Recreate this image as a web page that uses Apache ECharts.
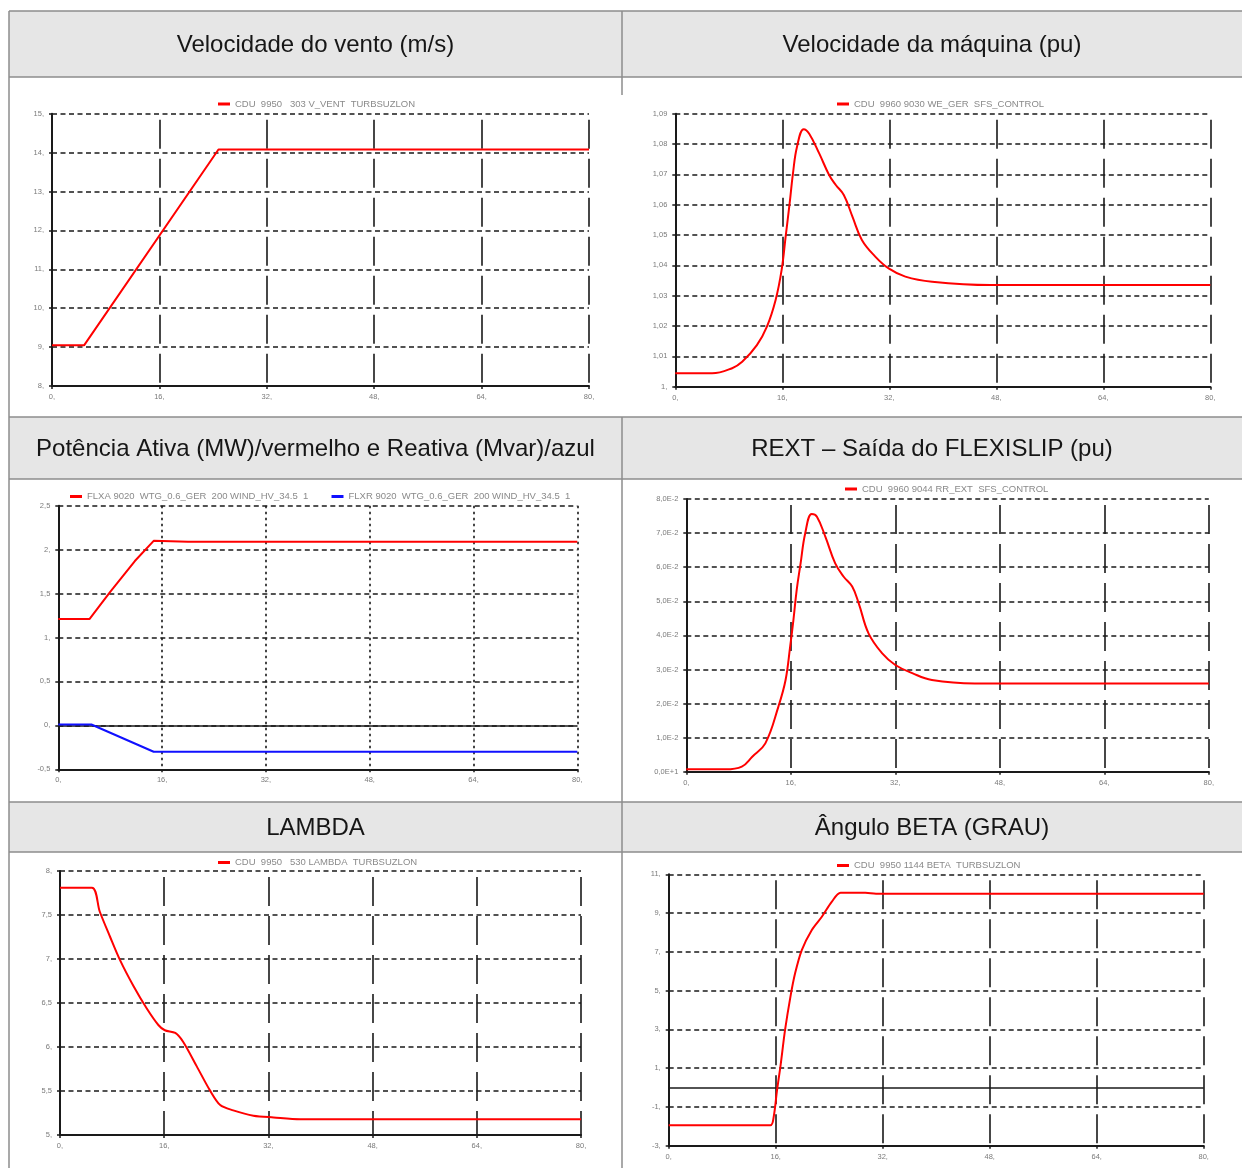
<!DOCTYPE html>
<html><head><meta charset="utf-8">
<script src="https://cdn.jsdelivr.net/npm/echarts@6/dist/echarts.min.js"></script>
<style>html,body{margin:0;padding:0;background:#fff}#c{width:1242px;height:1168px}</style>
</head><body><div id="c"></div>
<script>
// ---------- DATA ----------
const headers = ['Velocidade do vento (m/s)', 'Velocidade da máquina (pu)',
  'Potência Ativa (MW)/vermelho e Reativa (Mvar)/azul', 'REXT – Saída do FLEXISLIP (pu)',
  'LAMBDA', 'Ângulo BETA (GRAU)'];
const xTicks = [0, 16, 32, 48, 64, 80];

// Chart 1: wind speed
const windName = 'CDU  9950   303 V_VENT  TURBSUZLON';
const windT = [0, 4.8, 24.8, 80];
const windV = [9.05, 9.05, 14.08, 14.08];

// Chart 2: machine speed
const speedName = 'CDU  9960 9030 WE_GER  SFS_CONTROL';
const speedT = [0, 5.5, 8.5, 10, 12.2, 13.7, 15.0, 15.9, 16.5, 17.1, 17.6, 18.2, 19.2, 20.0, 21.5, 23.0, 24.0, 25.2, 26.5, 27.9, 29.9, 31.9, 34.4, 38.4, 47.1, 80];
const speedV = [1.0044, 1.0044, 1.0061, 1.0082, 1.0137, 1.0198, 1.0286, 1.0385, 1.0495, 1.0605, 1.0704, 1.0791, 1.0849, 1.0835, 1.0770, 1.0698, 1.0665, 1.0632, 1.0560, 1.0484, 1.0429, 1.0390, 1.0363, 1.0346, 1.0335, 1.0335];

// Chart 3: active (red) and reactive (blue) power
const pName = 'FLXA 9020  WTG_0.6_GER  200 WIND_HV_34.5  1';
const pT = [0, 4.8, 8.0, 11.8, 14.7, 20, 80];
const pV = [1.21, 1.21, 1.52, 1.87, 2.10, 2.09, 2.09];
const qName = 'FLXR 9020  WTG_0.6_GER  200 WIND_HV_34.5  1';
const qT = [0, 5.1, 14.7, 80];
const qV = [0.01, 0.01, -0.30, -0.30];

// Chart 4: REXT
const rextName = 'CDU  9960 9044 RR_EXT  SFS_CONTROL';
const rextT = [0, 6.0, 8.5, 10.1, 12.1, 14.1, 15.2, 15.9, 16.4, 16.9, 17.5, 18.2, 19.2, 20.0, 21.3, 22.8, 24.1, 25.4, 26.4, 27.9, 30.0, 32.0, 34.6, 37.6, 44.2, 80];
const rextV = [0.0007, 0.0007, 0.0015, 0.0044, 0.0083, 0.0191, 0.0269, 0.0367, 0.0445, 0.0533, 0.0611, 0.0699, 0.0756, 0.0748, 0.0689, 0.0611, 0.0572, 0.0543, 0.0494, 0.0406, 0.0347, 0.0313, 0.0289, 0.0269, 0.0259, 0.0259];

// Chart 5: LAMBDA
const lamName = 'CDU  9950   530 LAMBDA  TURBSUZLON';
const lamT = [0, 4.9, 6.1, 7.7, 9.2, 11.3, 13.3, 15.1, 16.1, 17.7, 18.9, 21.0, 23.0, 24.6, 26.6, 29.7, 32.8, 36.9, 80];
const lamV = [7.81, 7.81, 7.54, 7.25, 6.99, 6.69, 6.44, 6.25, 6.19, 6.16, 6.06, 5.78, 5.51, 5.34, 5.28, 5.22, 5.20, 5.18, 5.18];

// Chart 6: BETA
const betaName = 'CDU  9950 1144 BETA  TURBSUZLON';
const betaT = [0, 15.2, 15.7, 16.2, 16.7, 17.4, 18.2, 18.9, 19.9, 21.4, 22.9, 24.4, 25.7, 29.4, 31, 80];
const betaV = [-1.95, -1.95, -1.51, -0.13, 1.07, 2.97, 4.68, 5.89, 7.09, 8.13, 8.81, 9.59, 10.05, 10.05, 10.0, 10.0];

// y axis ranges [min, max, interval]
const yRanges = [[8, 15, 1], [1.0, 1.09, 0.01], [-0.5, 2.5, 0.5], [0, 0.08, 0.01], [5, 8, 0.5], [-3, 11, 2]];

// ---------- LAYOUT ----------
const grids = [
  {left: 52, top: 113.7, width: 537, height: 272.3},
  {left: 675.3, top: 113.7, width: 535, height: 273},
  {left: 58.3, top: 505.7, width: 519, height: 263.6},
  {left: 686.3, top: 499, width: 522.5, height: 272.7},
  {left: 60, top: 871, width: 521, height: 264},
  {left: 668.7, top: 874.3, width: 535, height: 271.4}
];
const legendPos = [[218, 99], [837, 99], [70, 491.5], [845, 484], [218, 857.5], [837, 860.5]];

function zip(a, b) { return a.map((t, i) => [t, b[i]]); }
function fmtNum(v) {
  const s = String(Math.round(v * 1e6) / 1e6);
  return s.indexOf('.') < 0 ? s + ',' : s.replace('.', ',');
}
function fmtExp(v) {
  if (Math.abs(v) < 1e-9) return '0,0E+1';
  return (Math.round(v * 1000) / 10).toFixed(1).replace('.', ',') + 'E-2';
}

const AX = '#1a1a1a', LBL = '#7a7a7a', FONT = '"Liberation Sans", Arial, sans-serif';

const xAxes = grids.map((g, i) => ({
  type: 'value', gridIndex: i, min: xTicks[0], max: xTicks[xTicks.length - 1], interval: xTicks[1] - xTicks[0],
  axisLine: {show: true, onZero: false, lineStyle: {color: AX, width: 2}},
  axisTick: {show: true, length: 3, lineStyle: {color: AX, width: 1.5}},
  axisLabel: {fontSize: 7.5, color: LBL, margin: 7, fontFamily: FONT, showMinLabel: true, showMaxLabel: true, formatter: fmtNum},
  splitLine: {show: true, lineStyle: i === 2 ?
    {color: AX, width: 1.6, type: [2.5, 3.5]} :
    {color: AX, width: 1.6, type: [29, 10], dashOffset: 33}}
}));
const yAxes = grids.map((g, i) => ({
  type: 'value', gridIndex: i, min: yRanges[i][0], max: yRanges[i][1], interval: yRanges[i][2],
  axisLine: {show: true, onZero: false, lineStyle: {color: AX, width: 2}},
  axisTick: {show: true, length: 3, lineStyle: {color: AX, width: 1.5}},
  axisLabel: {fontSize: 7.5, color: LBL, margin: 8, fontFamily: FONT, showMinLabel: true, showMaxLabel: true,
    formatter: i === 3 ? fmtExp : fmtNum},
  splitLine: {show: true, lineStyle: {color: AX, width: 1.5, type: [5, 3.5]}}
}));

const RED = '#ff0000', BLUE = '#1010ff';
function line(name, idx, t, v, color, smooth, extra) {
  return Object.assign({
    type: 'line', name, xAxisIndex: idx, yAxisIndex: idx, data: zip(t, v),
    showSymbol: false, symbol: 'none', smooth: smooth,
    lineStyle: {color, width: 2}, itemStyle: {color}, z: 5
  }, extra || {});
}
const zeroLine = {markLine: {silent: true, symbol: ['none', 'none'], label: {show: false},
  lineStyle: {color: AX, type: 'solid', width: 1.6}, data: [{yAxis: 0}]}};

const series = [
  line(windName, 0, windT, windV, RED, false),
  line(speedName, 1, speedT, speedV, RED, 0.4),
  line(pName, 2, pT, pV, RED, false),
  line(qName, 2, qT, qV, BLUE, false, zeroLine),
  line(rextName, 3, rextT, rextV, RED, 0.4),
  line(lamName, 4, lamT, lamV, RED, 0.3),
  line(betaName, 5, betaT, betaV, RED, 0.3, zeroLine)
];

function leg(name, pos) {
  return {data: [name], left: pos[0], top: pos[1], padding: 0, icon: 'rect', itemWidth: 12, itemHeight: 3,
    selectedMode: false, textStyle: {fontSize: 9.5, color: '#8a8a8a', fontFamily: FONT}};
}
const legends = [
  leg(windName, legendPos[0]), leg(speedName, legendPos[1]), leg(pName, legendPos[2]),
  leg(qName, [331.5, 491.5]), leg(rextName, legendPos[3]), leg(lamName, legendPos[4]), leg(betaName, legendPos[5])
];

// ---------- TABLE (graphic) ----------
const BORDER = '#8c8c8c', HEAD_BG = '#e6e6e6';
const headRows = [[11, 77], [417, 479], [802, 852]];
const graphic = [];
headRows.forEach(r => graphic.push({type: 'rect', silent: true, z: -10,
  shape: {x: 9, y: r[0], width: 1233, height: r[1] - r[0]}, style: {fill: HEAD_BG}}));
const hl = [11, 77, 417, 479, 802, 852];
hl.forEach(y => graphic.push({type: 'line', silent: true, z: -5,
  shape: {x1: 9, y1: y, x2: 1242, y2: y}, style: {stroke: BORDER, lineWidth: 1.5}}));
const vl = [[9, 11, 1168], [622, 11, 95], [622, 417, 1168]];
vl.forEach(v => graphic.push({type: 'line', silent: true, z: -5,
  shape: {x1: v[0], y1: v[1], x2: v[0], y2: v[2]}, style: {stroke: BORDER, lineWidth: 1.5}}));
const colCenters = [315.5, 932];
headers.forEach((h, i) => {
  const r = headRows[Math.floor(i / 2)];
  graphic.push({type: 'text', silent: true, z: 10, x: colCenters[i % 2], y: (r[0] + r[1]) / 2 + 1,
    style: {text: h, fill: '#161616', fontSize: 24, fontFamily: FONT, align: 'center', verticalAlign: 'middle'}});
});

const chart = echarts.init(document.getElementById('c'), null, {renderer: 'canvas'});
chart.setOption({
  animation: false,
  backgroundColor: '#ffffff',
  grid: grids.map(g => Object.assign({containLabel: false, outerBoundsMode: 'none'}, g)),
  xAxis: xAxes,
  yAxis: yAxes,
  legend: legends,
  series,
  graphic
});
</script></body></html>
